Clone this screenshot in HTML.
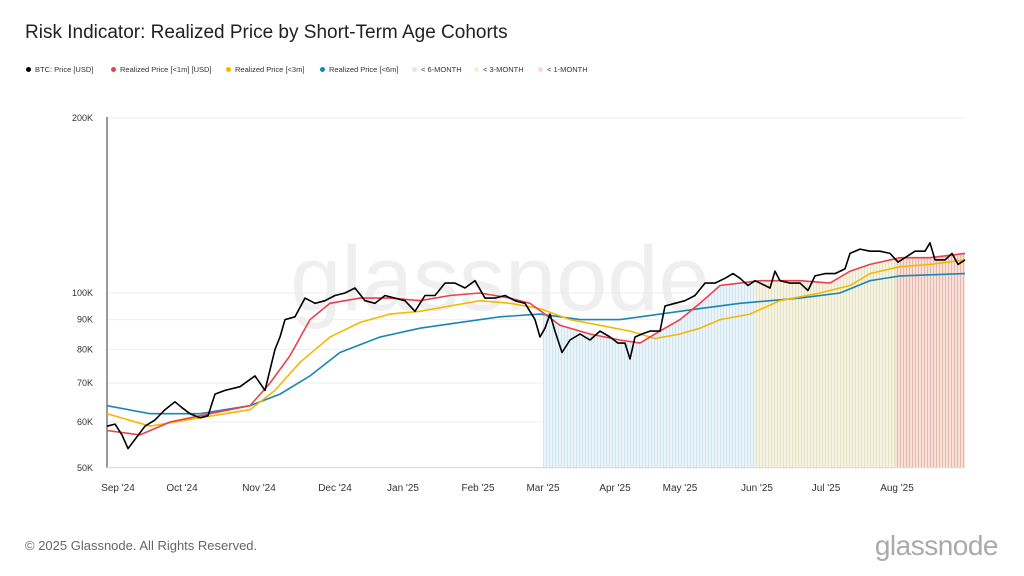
<!DOCTYPE html><html><head><style>
body{margin:0;width:1024px;height:576px;background:#fff;font-family:"Liberation Sans",sans-serif;overflow:hidden;position:relative}
.t{position:absolute;left:25px;top:22px;font-size:19px;color:#222}
.lg{position:absolute;top:65px;font-size:7.5px;color:#333;white-space:nowrap}
.lg i{display:inline-block;width:5px;height:5px;border-radius:50%;margin-right:4px;vertical-align:0}
.f{position:absolute;left:25px;top:538px;font-size:13px;color:#666}
.g{position:absolute;right:26px;top:530px;font-size:28px;color:#aaa;letter-spacing:-0.5px}
</style></head><body>
<div class="t">Risk Indicator: Realized Price by Short-Term Age Cohorts</div>
<div class="lg" style="left:26px"><i style="background:#000"></i>BTC: Price [USD]</div>
<div class="lg" style="left:111px"><i style="background:#e8424f"></i>Realized Price [&lt;1m] [USD]</div>
<div class="lg" style="left:226px"><i style="background:#f5b800"></i>Realized Price [&lt;3m]</div>
<div class="lg" style="left:320px"><i style="background:#1a86b3"></i>Realized Price [&lt;6m]</div>
<div class="lg" style="left:412px"><i style="background:#dbe9f1"></i>&lt; 6-MONTH</div>
<div class="lg" style="left:474px"><i style="background:#f5efd6"></i>&lt; 3-MONTH</div>
<div class="lg" style="left:538px"><i style="background:#f7d8dc"></i>&lt; 1-MONTH</div>
<svg id="s" width="1024" height="576" style="position:absolute;left:0;top:0"></svg>
<div class="f">© 2025 Glassnode. All Rights Reserved.</div>
<div class="g">glassnode</div>
<script>
const Y=v=>293-175*Math.log2(v/100000);
const btc=[[107,59000],[115,59500],[122,57000],[128,54000],[135,56000],[145,59000],[155,60500],[165,63000],[175,65000],[182,63500],[190,62000],[200,61000],[208,61500],[215,67000],[225,68000],[240,69000],[255,72000],[265,68000],[275,80000],[280,84000],[285,90000],[295,91000],[305,98000],[315,96000],[325,97000],[335,99000],[345,100000],[355,102000],[365,97000],[375,96000],[385,99000],[395,98000],[405,97000],[415,93000],[425,99000],[435,99000],[445,104000],[455,104000],[465,102000],[475,105000],[485,98000],[495,98000],[505,99000],[515,97000],[525,96000],[535,90000],[540,84000],[545,87000],[550,92000],[555,86000],[562,79000],[570,83000],[580,85000],[590,83000],[600,86000],[610,84000],[618,82000],[625,82000],[630,77000],[635,84000],[642,85000],[650,86000],[660,86000],[665,95000],[675,96000],[685,97000],[695,99000],[705,104000],[715,104000],[725,106000],[733,108000],[740,106000],[748,103000],[755,105000],[765,103000],[770,102000],[775,109000],[780,105000],[790,104000],[800,104000],[808,101000],[815,107000],[825,108000],[835,108000],[845,110000],[850,117000],[860,119000],[870,118000],[880,118000],[890,117000],[898,113000],[905,115000],[915,118000],[925,118000],[930,122000],[935,114000],[945,114000],[952,117000],[958,112000],[965,114000]];
const red=[[107,58000],[140,57000],[170,60000],[210,62000],[250,64000],[270,70000],[290,78000],[310,90000],[330,96000],[360,98000],[390,98000],[420,97000],[450,99000],[480,100000],[510,98000],[530,96000],[545,92000],[560,88000],[590,85000],[620,83000],[640,82000],[660,86000],[680,90000],[700,96000],[720,103000],[740,104000],[760,105000],[800,105000],[830,104000],[850,109000],[870,112000],[900,115000],[930,115000],[965,117000]];
const yel=[[107,62000],[150,59000],[200,61000],[250,63000],[275,68000],[300,76000],[330,84000],[360,89000],[390,92000],[420,93000],[450,95000],[480,97000],[510,96000],[540,94000],[570,90000],[600,88000],[630,86000],[655,83500],[680,85000],[700,87000],[720,90000],[750,92000],[780,97000],[820,100000],[850,103000],[870,108000],[900,111000],[930,112000],[965,114000]];
const blu=[[107,64000],[150,62000],[200,62000],[250,64000],[280,67000],[310,72000],[340,79000],[380,84000],[420,87000],[460,89000],[500,91000],[540,92000],[580,90000],[620,90000],[660,92000],[700,94000],[740,96000],[800,98000],[840,100000],[870,105000],[900,107000],[965,108000]];
const P=a=>a.map((p,i)=>(i?'L':'M')+p[0]+','+Y(p[1]).toFixed(1)).join('');
let h='<defs><pattern id="pb" width="3" height="10" patternUnits="userSpaceOnUse"><rect width="3" height="10" fill="#eaf4f9"/><rect width="1" height="10" fill="#cfe5f0"/></pattern><pattern id="py" width="3" height="10" patternUnits="userSpaceOnUse"><rect width="3" height="10" fill="#f4f3e4"/><rect width="1" height="10" fill="#e6e3c4"/></pattern><pattern id="pr" width="3" height="10" patternUnits="userSpaceOnUse"><rect width="3" height="10" fill="#f6e0da"/><rect width="1" height="10" fill="#eab8aa"/></pattern><clipPath id="c"><path d="'+P(red)+'L965,467L107,467Z"/></clipPath></defs>';
h+='<text x="500" y="310" font-size="92" fill="#efefef" text-anchor="middle" font-family="Liberation Sans">glassnode</text>';
[[200000,'200K'],[100000,'100K'],[90000,'90K'],[80000,'80K'],[70000,'70K'],[60000,'60K'],[50000,'50K']].forEach(([v,l])=>{const y=Y(v);h+=`<line x1="107" x2="965" y1="${y}" y2="${y}" stroke="#eee"/><text x="93" y="${y+3}" font-size="9" fill="#333" text-anchor="end">${l}</text>`});
h+='<g clip-path="url(#c)"><rect x="543" y="200" width="212" height="267" fill="url(#pb)"/><rect x="755" y="200" width="140" height="267" fill="url(#py)"/><rect x="895" y="200" width="70" height="267" fill="url(#pr)"/></g>';
h+='<line x1="107" x2="107" y1="117" y2="468" stroke="#333"/><line x1="107" x2="965" y1="467.5" y2="467.5" stroke="#ddd"/>';
[[118,"Sep '24"],[182,"Oct '24"],[259,"Nov '24"],[335,"Dec '24"],[403,"Jan '25"],[478,"Feb '25"],[543,"Mar '25"],[615,"Apr '25"],[680,"May '25"],[757,"Jun '25"],[826,"Jul '25"],[897,"Aug '25"]].forEach(([x,l])=>{h+=`<text x="${x}" y="491" font-size="10" fill="#333" text-anchor="middle">${l}</text>`});
h+=`<path d="${P(blu)}" fill="none" stroke="#1a86b3" stroke-width="1.6"/><path d="${P(yel)}" fill="none" stroke="#f5b800" stroke-width="1.6"/><path d="${P(red)}" fill="none" stroke="#e8424f" stroke-width="1.6"/><path d="${P(btc)}" fill="none" stroke="#000" stroke-width="1.6" stroke-linejoin="round"/>`;
document.getElementById('s').innerHTML=h;
</script></body></html>
